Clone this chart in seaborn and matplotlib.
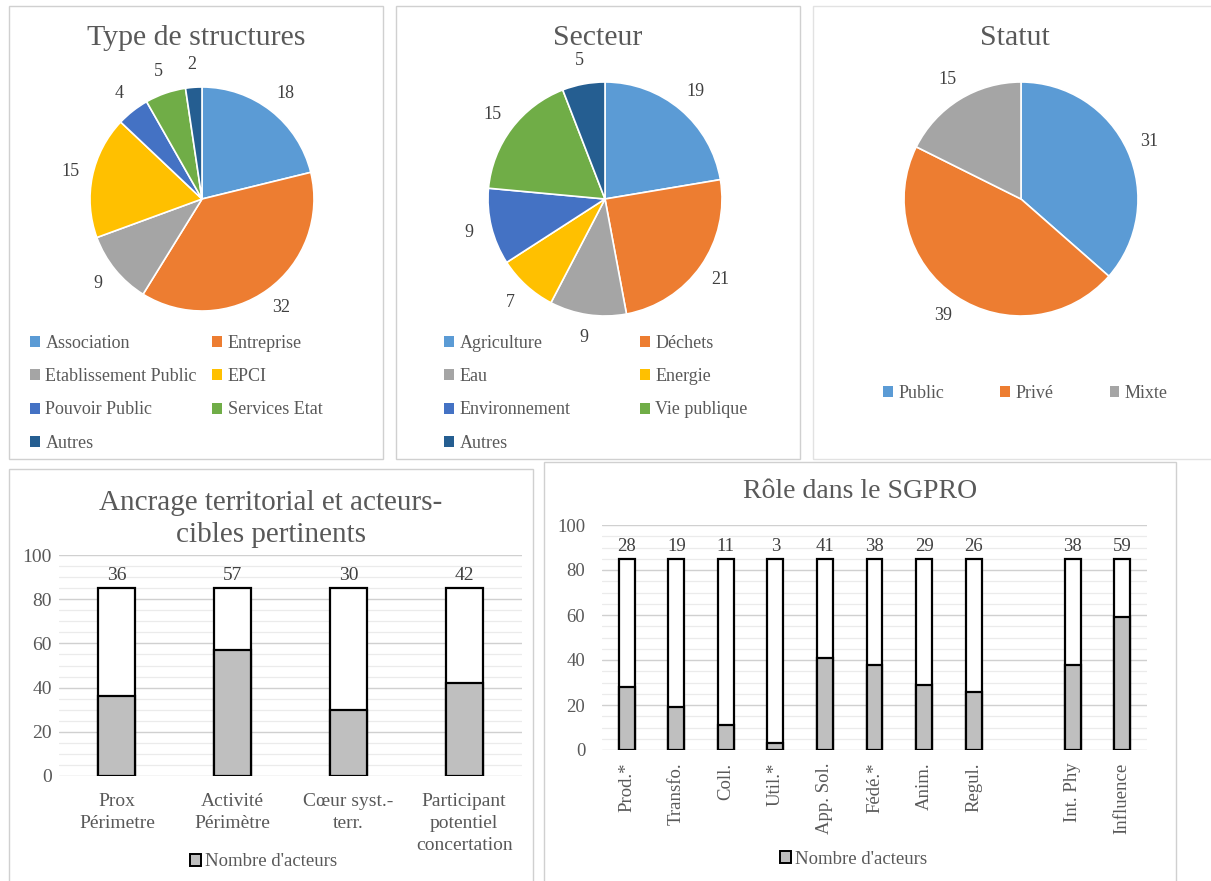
import matplotlib
matplotlib.use("Agg")
import matplotlib.pyplot as plt
from matplotlib.patches import Rectangle, Patch
from matplotlib.ticker import MultipleLocator
import seaborn as sns
import pandas as pd

# ---------------- data ----------------
type_labels = ["Association", "Entreprise", "Etablissement Public", "EPCI",
               "Pouvoir Public", "Services Etat", "Autres"]
type_values = [18, 32, 9, 15, 4, 5, 2]

secteur_labels = ["Agriculture", "Déchets", "Eau", "Energie",
                  "Environnement", "Vie publique", "Autres"]
secteur_values = [19, 21, 9, 7, 9, 15, 5]

statut_labels = ["Public", "Privé", "Mixte"]
statut_values = [31, 39, 15]

ancrage_labels = ["Prox\nPérimetre", "Activité\nPérimètre", "Cœur syst.-\nterr.",
                  "Participant\npotentiel\nconcertation"]
ancrage_values = [36, 57, 30, 42]

role_labels = ["Prod.*", "Transfo.", "Coll.", "Util.*", "App. Sol.", "Fédé.*",
               "Anim.", "Regul.", "Int. Phy", "Influence"]
role_values = [28, 19, 11, 3, 41, 38, 29, 26, 38, 59]
role_order = role_labels[:8] + [" "] + role_labels[8:]

TOTAL = 85
legend_bar_label = "Nombre d'acteurs"

office = ["#5B9BD5", "#ED7D31", "#A5A5A5", "#FFC000", "#4472C4", "#70AD47", "#255E91"]

# ---------------- style ----------------
sns.set_theme(style="white")
plt.rcParams["font.family"] = ["Liberation Serif", "DejaVu Serif"]

W, H = 1211, 881
fig = plt.figure(figsize=(W / 100, H / 100), dpi=100)
fig.patch.set_facecolor("white")

TXT = "#595959"
LAB = "#404040"


def px_axes(x0, y0, x1, y1):
    return fig.add_axes([x0 / W, 1 - y1 / H, (x1 - x0) / W, (y1 - y0) / H])


def border(x0, y0, x1, y1, color="#D0D0D0"):
    fig.add_artist(Rectangle((x0 / W, 1 - y1 / H), (x1 - x0) / W, (y1 - y0) / H,
                             transform=fig.transFigure, fill=False,
                             edgecolor=color, linewidth=1.0))


def fig_text(x, y, s, **kw):
    fig.text(x / W, 1 - y / H, s, **kw)


# panel borders
border(9, 6, 383, 459)
border(396, 6, 800, 459)
border(813, 6, 1216, 459, color="#E2E2E2")
border(9, 469, 533, 886)
border(544, 462, 1176, 886)


# ---------------- pies ----------------
def draw_pie(cx, cy, r, labels, values, colors):
    half = 1.45
    size = 2 * half * r
    ax = px_axes(cx - size / 2, cy - size / 2, cx + size / 2, cy + size / 2)
    wedges, texts = ax.pie(values, labels=[str(v) for v in values], colors=colors,
                           startangle=90, counterclock=False, labeldistance=1.2,
                           wedgeprops=dict(edgecolor="white", linewidth=1.2),
                           textprops=dict(fontsize=13, color=LAB))
    for t in texts:
        t.set_ha("center")
        t.set_va("center")
    ax.set_xlim(-half, half)
    ax.set_ylim(-half, half)
    ax.axis("off")
    return wedges


def pie_legend(labels, colors, x, y, ncol, colspace):
    handles = [Patch(facecolor=c, edgecolor="none") for c in colors]
    # Excel fills the legend row by row: reorder for matplotlib's column filling
    idx = list(range(len(labels)))
    order = [i for c in range(ncol) for i in idx[c::ncol]]
    fig.legend([handles[i] for i in order], [labels[i] for i in order],
               loc="upper left", bbox_to_anchor=(x / W, 1 - y / H),
               ncol=ncol, frameon=False, fontsize=13, labelcolor=TXT,
               handlelength=0.55, handleheight=0.55, handletextpad=0.3,
               columnspacing=colspace, labelspacing=0.9, borderpad=0,
               borderaxespad=0)


draw_pie(202, 199, 112, type_labels, type_values, office[:len(type_values)])
fig_text(196, 38, "Type de structures", ha="center", va="center", fontsize=21.5, color=TXT)
pie_legend(type_labels, office[:len(type_values)], 30, 335, 2, 0.85)

draw_pie(605, 199, 117, secteur_labels, secteur_values, office[:len(secteur_values)])
fig_text(598, 38, "Secteur", ha="center", va="center", fontsize=21.5, color=TXT)
pie_legend(secteur_labels, office[:len(secteur_values)], 444, 335, 2, 3.85)

draw_pie(1021, 199, 117, statut_labels, statut_values, office[:len(statut_values)])
fig_text(1015, 38, "Statut", ha="center", va="center", fontsize=21.5, color=TXT)
pie_legend(statut_labels, office[:len(statut_values)], 883, 385, 3, 3.1)


# ---------------- stacked bars ----------------
def draw_bars(ax, cats, values, order, fs_tick, ypad, xpad, rotation=0, linesp=1.0):
    df = pd.DataFrame({"cat": cats, "val": values})
    df["total"] = TOTAL
    sns.barplot(data=df, x="cat", y="total", order=order, color="white",
                saturation=1, edgecolor="black", linewidth=1.6, width=0.32,
                errorbar=None, ax=ax)
    sns.barplot(data=df, x="cat", y="val", order=order, color="#BFBFBF",
                saturation=1, edgecolor="black", linewidth=1.6, width=0.32,
                errorbar=None, ax=ax)
    ax.bar_label(ax.containers[0], labels=[str(v) for v in values], padding=3,
                 fontsize=fs_tick, color=LAB)
    ax.set_ylim(0, 100)
    ax.set_xlim(-0.5, len(order) - 0.5)
    ax.yaxis.set_major_locator(MultipleLocator(20))
    ax.yaxis.set_minor_locator(MultipleLocator(5))
    ax.grid(False)
    ax.yaxis.grid(True, which="major", color="#D0D0D0", linewidth=1.0)
    ax.yaxis.grid(True, which="minor", color="#EBEBEB", linewidth=0.9)
    ax.set_axisbelow(True)
    for s in ax.spines.values():
        s.set_visible(False)
    ax.set_xlabel("")
    ax.set_ylabel("")
    ax.tick_params(axis="both", which="both", length=0, labelsize=fs_tick,
                   labelcolor=TXT)
    ax.tick_params(axis="y", pad=ypad)
    ax.tick_params(axis="x", pad=xpad)
    for t in ax.get_xticklabels():
        t.set_rotation(rotation)
        t.set_linespacing(linesp)
        if rotation:
            t.set_va("top")
            t.set_ha("center")


def bar_legend(x, y):
    h = [Patch(facecolor="#BFBFBF", edgecolor="black", linewidth=1.4)]
    fig.legend(h, [legend_bar_label], loc="center left", bbox_to_anchor=(x / W, 1 - y / H),
               frameon=False, fontsize=13.5, labelcolor=TXT, handlelength=0.6,
               handleheight=0.6, handletextpad=0.2, borderpad=0, borderaxespad=0)


ax4 = px_axes(59, 555, 522, 776)
draw_bars(ax4, ancrage_labels, ancrage_values, ancrage_labels, 14, 5, 12, linesp=1.38)
fig_text(271, 519, "Ancrage territorial et acteurs-\ncibles pertinents", ha="center",
         va="center", fontsize=21, color=TXT, linespacing=1.35)
bar_legend(190, 862)

ax5 = px_axes(602, 525, 1147, 750)
draw_bars(ax5, role_labels, role_values, role_order, 13.5, 12, 9, rotation=90)
fig_text(860, 492, "Rôle dans le SGPRO", ha="center", va="center", fontsize=20,
         color=TXT)
bar_legend(780, 859)

fig.savefig("out.png", dpi=100, facecolor="white")
